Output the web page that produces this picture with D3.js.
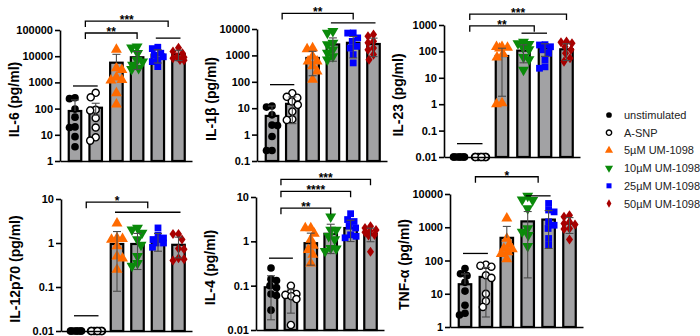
<!DOCTYPE html>
<html>
<head>
<meta charset="utf-8">
<script src="https://cdn.jsdelivr.net/npm/d3@7"></script>
<style>
  body { margin: 0; background: #fff; }
  svg { font-family: 'Liberation Sans', Arial, sans-serif; }
</style>
</head>
<body>
<svg width="700" height="336"></svg>
<script>
const groups = ['unstimulated', 'A-SNP', '5µM UM-1098', '10µM UM-1098', '25µM UM-1098', '50µM UM-1098'];

// IL-6
const il6Points = [
  [260, 240, 96, 47, 20, 19, 8.5, 3.5],
  [400, 270, 90, 85, 44, 19, 8, 6],
  [18000, 3500, 3000, 1550, 1250, 1200, 390, 145],
  [23000, 21000, 13000, 7100, 6200, 4600, 3500, 3200],
  [22000, 19500, 13000, 11000, 9500, 7100, 6200, 4000],
  [21000, 15000, 13000, 9600, 9100, 8300, 7100, 7000]
];
const il6Means = [81, 108, 5650, 9100, 11500, 11800];
const il6Sd = [133, 52, 6150, 6000, 6000, 5000];
const il6Ticks = [1, 10, 100, 1000, 10000, 100000];
const il6Lines = [{from: 0, to: 1, value: 730}, {from: 4, to: 5, value: 49000}];
const il6Brackets = [
  {from: 0.5, to: 3, value: 76800, label: '**'},
  {from: 0.5, to: 4.5, value: 219000, label: '***'}
];

// IL-1β
const il1bPoints = [
  [12, 11, 5.6, 2.3, 2.2, 0.85, 0.25, 0.25],
  [37, 27, 25, 18, 13.5, 7.5, 3.8, 3.6],
  [1900, 1750, 920, 600, 600, 390, 250, 120],
  [8200, 7100, 3000, 2600, 1650, 1250, 920, 690],
  [7100, 7000, 4600, 3400, 2200, 1900, 1070, 520],
  [6200, 5300, 3400, 3000, 1900, 1650, 1070, 690]
];
const il1bMeans = [5.1, 14.6, 800, 2600, 3000, 2700];
const il1bSd = [7, 12, 630, 2000, 2200, 1800];
const il1bTicks = [0.1, 1, 10, 100, 1000, 10000];
const il1bLines = [{from: 0, to: 1, value: 78}, {from: 3, to: 5, value: 17200}];
const il1bBrackets = [{from: 0.5, to: 4, value: 39000, label: '**'}];

// IL-23
const il23Points = [
  [0.01, 0.01, 0.01, 0.01, 0.01, 0.01, 0.01, 0.01],
  [0.01, 0.01, 0.01, 0.01, 0.01, 0.01, 0.01, 0.01],
  [150, 150, 140, 130, 80, 60, 1.1, 1.0],
  [230, 200, 190, 140, 120, 60, 50, 20],
  [180, 175, 150, 115, 85, 48, 26, 23],
  [235, 220, 205, 150, 115, 85, 55, 41]
];
const il23Means = [0.01, 0.01, 67, 107, 130, 120];
const il23Sd = [0, 0, 65, 70, 65, 75];
const il23Ticks = [0.01, 0.1, 1, 10, 100, 1000];
const il23Lines = [{from: 0, to: 1, value: 0.032}, {from: 3, to: 4, value: 490}];
const il23Brackets = [
  {from: 0.5, to: 3.5, value: 930, label: '**'},
  {from: 0.5, to: 5, value: 2600, label: '***'}
];

// IL-12p70
const il12Points = [
  [0.01, 0.01, 0.01, 0.01, 0.01, 0.01, 0.01, 0.01],
  [0.01, 0.01, 0.01, 0.01, 0.01, 0.01, 0.01, 0.01],
  [2.8, 1.3, 1.25, 1.2, 0.85, 0.5, 0.45, 0.25],
  [2.2, 2.0, 1.7, 1.2, 0.9, 0.5, 0.35, 0.3],
  [2.2, 1.5, 1.3, 1.2, 1.2, 1.0, 1.0, 0.8],
  [1.6, 1.6, 1.2, 0.75, 0.72, 0.45, 0.43, 0.4]
];
const il12Means = [0.01, 0.01, 0.95, 0.95, 1.15, 0.91];
const il12Sd = [0, 0, 0.87, 0.7, 0.5, 0.45];
const il12Ticks = [0.01, 0.1, 1, 10];
const il12Lines = [{from: 0, to: 1, value: 0.0222}, {from: 2, to: 5, value: 5.0}];
const il12Brackets = [{from: 0.5, to: 3.5, value: 8.45, label: '*'}];

// IL-4
const il4Points = [
  [0.25, 0.14, 0.13, 0.1, 0.09, 0.065, 0.06, 0.028],
  [0.1, 0.07, 0.065, 0.062, 0.058, 0.05, 0.013],
  [2.0, 2.0, 1.5, 1.1, 0.8, 0.64, 0.5, 0.32],
  [3.6, 1.8, 1.8, 1.3, 1.1, 0.7, 0.68, 0.6],
  [4.2, 3.1, 2.8, 2.2, 2.0, 1.4, 1.3, 1.2],
  [2.2, 2.0, 1.8, 1.7, 1.6, 1.4, 1.35, 0.58]
];
const il4Means = [0.092, 0.054, 0.91, 1.48, 1.99, 1.48];
const il4Sd = [0.075, 0.03, 0.62, 0.95, 1.0, 0.5];
const il4Ticks = [0.01, 0.1, 1, 10];
const il4Lines = [{from: 0, to: 1, value: 0.417}];
const il4Brackets = [
  {from: 0.5, to: 3, value: 5.6, label: '**'},
  {from: 0.5, to: 4, value: 13.4, label: '****'},
  {from: 0.5, to: 5, value: 25, label: '***'}
];

// TNF-α
const tnfPoints = [
  [57, 40, 35, 22, 12, 4.5, 2.6, 2.3],
  [75, 70, 65, 36, 30, 10, 6, 4],
  [1850, 460, 300, 230, 220, 180, 160, 110],
  [8700, 6800, 6500, 3700, 920, 730, 580, 270],
  [5200, 3300, 2900, 1450, 1150, 920, 460, 290],
  [2300, 2060, 1450, 1300, 1200, 920, 880, 430]
];
const tnfMeans = [19.3, 32, 480, 1500, 1700, 1300];
const tnfSd = [20, 30, 580, 1470, 1470, 650];
const tnfTicks = [1, 10, 100, 1000, 10000];
const tnfLines = [{from: 0, to: 1, value: 163}, {from: 3, to: 4, value: 8800}];
const tnfBrackets = [{from: 0.5, to: 3.5, value: 33000, label: '*'}];

const fills = ['#000000', '#ffffff', '#ff6a00', '#0a8a0a', '#0000ff', '#a80000'];
const shapes = [d3.symbolCircle, d3.symbolCircle, d3.symbolTriangle, d3.symbolTriangle,
  d3.symbolSquare, d3.symbolDiamond];
const sizes = [46, 40, 52, 52, 46, 36];

const panels = [
  {title: 'IL-6 (pg/ml)', points: il6Points, means: il6Means, sd: il6Sd, ticks: il6Ticks,
    lines: il6Lines, brackets: il6Brackets, left: 60, right: 192, top: 30, bottom: 161},
  {title: 'IL-1β (pg/ml)', points: il1bPoints, means: il1bMeans, sd: il1bSd, ticks: il1bTicks,
    lines: il1bLines, brackets: il1bBrackets, left: 257, right: 387, top: 29, bottom: 161},
  {title: 'IL-23 (pg/ml)', points: il23Points, means: il23Means, sd: il23Sd, ticks: il23Ticks,
    lines: il23Lines, brackets: il23Brackets, left: 444, right: 580, top: 25, bottom: 157},
  {title: 'IL-12p70 (pg/ml)', points: il12Points, means: il12Means, sd: il12Sd, ticks: il12Ticks,
    lines: il12Lines, brackets: il12Brackets, left: 61, right: 192, top: 199, bottom: 331},
  {title: 'IL-4 (pg/ml)', points: il4Points, means: il4Means, sd: il4Sd, ticks: il4Ticks,
    lines: il4Lines, brackets: il4Brackets, left: 256, right: 384, top: 197, bottom: 330},
  {title: 'TNF-α (pg/ml)', points: tnfPoints, means: tnfMeans, sd: tnfSd, ticks: tnfTicks,
    lines: tnfLines, brackets: tnfBrackets, left: 450, right: 583, top: 194, bottom: 327}
];

const svg = d3.select('svg');

// spread points sideways so they overlap less, like a scatter dot plot
function spread(values, yScale) {
  const maxOff = 5.5;
  const minDist = 6.5;
  const order = d3.range(values.length).sort((a, b) => values[b] - values[a]);
  const placed = [];
  const offsets = [];
  const candidates = [0];
  for (let k = 0.5; k <= maxOff; k += 0.5) candidates.push(k, -k);
  order.forEach((i, n) => {
    const y = yScale(values[i]);
    let best = 0;
    let bestCost = Infinity;
    candidates.forEach(dx => {
      const x = n % 2 ? -dx : dx;
      let cost = 0;
      placed.forEach(p => {
        const d = Math.hypot(p.x - x, p.y - y);
        if (d < minDist) cost += (minDist - d) * (minDist - d);
      });
      if (cost < bestCost - 1e-6) {
        bestCost = cost;
        best = x;
      }
    });
    placed.push({x: best, y: y});
    offsets[i] = best;
  });
  return offsets;
}

function drawPanel(p) {
  const yScale = d3.scaleLog()
      .domain([p.ticks[0], p.ticks[p.ticks.length - 1]])
      .range([p.bottom, p.top]);
  const xScale = d3.scaleLinear()
      .domain([0, groups.length - 1])
      .range([p.left + 15, p.right - 13.5]);
  const g = svg.append('g');
  const barW = 12.5;

  // bars
  g.selectAll('rect.bar')
      .data(p.means.map((m, i) => ({m: m, i: i})).filter(d => d.m > p.ticks[0]))
      .enter()
      .append('rect')
      .attr('class', 'bar')
      .attr('x', d => xScale(d.i) - barW / 2)
      .attr('y', d => yScale(d.m))
      .attr('width', barW)
      .attr('height', d => p.bottom - yScale(d.m))
      .style('fill', '#a2a2a4')
      .style('stroke', '#000')
      .style('stroke-width', 2.2);

  // points
  p.points.forEach((vals, gi) => {
    const offs = spread(vals, yScale);
    const sym = d3.symbol().type(shapes[gi]).size(sizes[gi]);
    g.selectAll('path.pt' + gi)
        .data(vals)
        .enter()
        .append('path')
        .attr('class', 'pt' + gi)
        .attr('d', sym)
        .attr('transform', (d, j) => `translate(${xScale(gi) + offs[j]}, ${yScale(d)})` +
          (gi === 3 ? ' rotate(180)' : gi === 5 ? ' scale(1.1,0.9)' : ''))
        .style('fill', fills[gi])
        .style('stroke', gi === 1 ? '#000' : 'none')
        .style('stroke-width', 1.4);
  });

  // error bars (mean ± SD)
  const errs = p.means.map((m, i) => ({
    i: i,
    hi: m + p.sd[i],
    lo: m - p.sd[i] > p.ticks[0] ? m - p.sd[i] : null,
    m: m
  })).filter(d => p.sd[d.i] > 0);
  errs.forEach(d => {
    const x = xScale(d.i);
    const ends = [d.hi];
    if (d.lo !== null) ends.push(d.lo);
    g.append('line')
        .attr('x1', x).attr('x2', x)
        .attr('y1', yScale(d.hi))
        .attr('y2', d.lo !== null ? yScale(d.lo) : yScale(d.m))
        .style('stroke', '#4a4a4a')
        .style('stroke-width', 1.1);
    ends.forEach(v => {
      g.append('line')
          .attr('x1', x - 4).attr('x2', x + 4)
          .attr('y1', yScale(v)).attr('y2', yScale(v))
          .style('stroke', '#4a4a4a')
          .style('stroke-width', 1.1);
    });
  });

  // y axis
  const yAxis = d3.axisLeft()
      .scale(yScale)
      .tickValues(p.ticks)
      .tickFormat(d => String(d))
      .tickSize(5)
      .tickSizeOuter(0);
  const ya = g.append('g')
      .attr('transform', `translate(${p.left}, 0)`)
      .call(yAxis);
  ya.select('.domain').style('stroke-width', 1.6);
  ya.selectAll('.tick line').style('stroke-width', 1.6);
  ya.selectAll('.tick text')
      .attr('x', -7)
      .style('font-size', '11px')
      .style('font-weight', 'bold')
      .style('font-family', "'Liberation Sans', Arial, sans-serif")
      .style('fill', '#000');

  // x axis (line only)
  const xAxis = d3.axisBottom()
      .scale(d3.scaleLinear().range([p.left, p.right]))
      .tickValues([])
      .tickSizeOuter(0);
  g.append('g')
      .attr('transform', `translate(0, ${p.bottom})`)
      .call(xAxis)
      .select('.domain')
      .style('stroke-width', 1.6);

  // title
  g.append('text')
      .attr('transform', `translate(${p.left - 41}, ${(p.top + p.bottom) / 2 + 4}) rotate(-90)`)
      .attr('text-anchor', 'middle')
      .style('font-size', '14px')
      .style('font-weight', 'bold')
      .text(p.title);

  // group lines
  p.lines.forEach(l => {
    g.append('line')
        .attr('x1', xScale(l.from) - 2)
        .attr('x2', xScale(l.to) + 2)
        .attr('y1', yScale(l.value))
        .attr('y2', yScale(l.value))
        .style('stroke', '#000')
        .style('stroke-width', 1.3);
  });

  // significance brackets
  p.brackets.forEach(b => {
    const y = yScale(b.value);
    const x1 = xScale(b.from);
    const x2 = xScale(b.to);
    g.append('path')
        .attr('d', `M${x1},${y + 6}V${y}H${x2}V${y + 6}`)
        .style('fill', 'none')
        .style('stroke', '#000')
        .style('stroke-width', 1.3);
    g.append('text')
        .attr('x', (x1 + x2) / 2)
        .attr('y', y + 3)
        .attr('text-anchor', 'middle')
        .style('font-size', '12px')
        .style('font-weight', 'bold')
        .text(b.label);
  });
}

panels.forEach(drawPanel);

// legend
const legend = svg.append('g')
    .attr('transform', 'translate(609, 115)');
const rows = legend.selectAll('g.row')
    .data(groups)
    .enter()
    .append('g')
    .attr('class', 'row')
    .attr('transform', (d, i) => `translate(0, ${i * 17.7})`);
rows.append('path')
    .attr('d', (d, i) => d3.symbol().type(shapes[i]).size(sizes[i] * 0.55)())
    .attr('transform', (d, i) => i === 3 ? 'rotate(180)' : '')
    .style('fill', (d, i) => fills[i])
    .style('stroke', (d, i) => i === 1 ? '#000' : 'none')
    .style('stroke-width', 1.4);
rows.append('text')
    .attr('x', 15)
    .attr('y', 4)
    .style('font-size', '11px')
    .style('fill', '#222')
    .text(d => d);
</script>
</body>
</html>
